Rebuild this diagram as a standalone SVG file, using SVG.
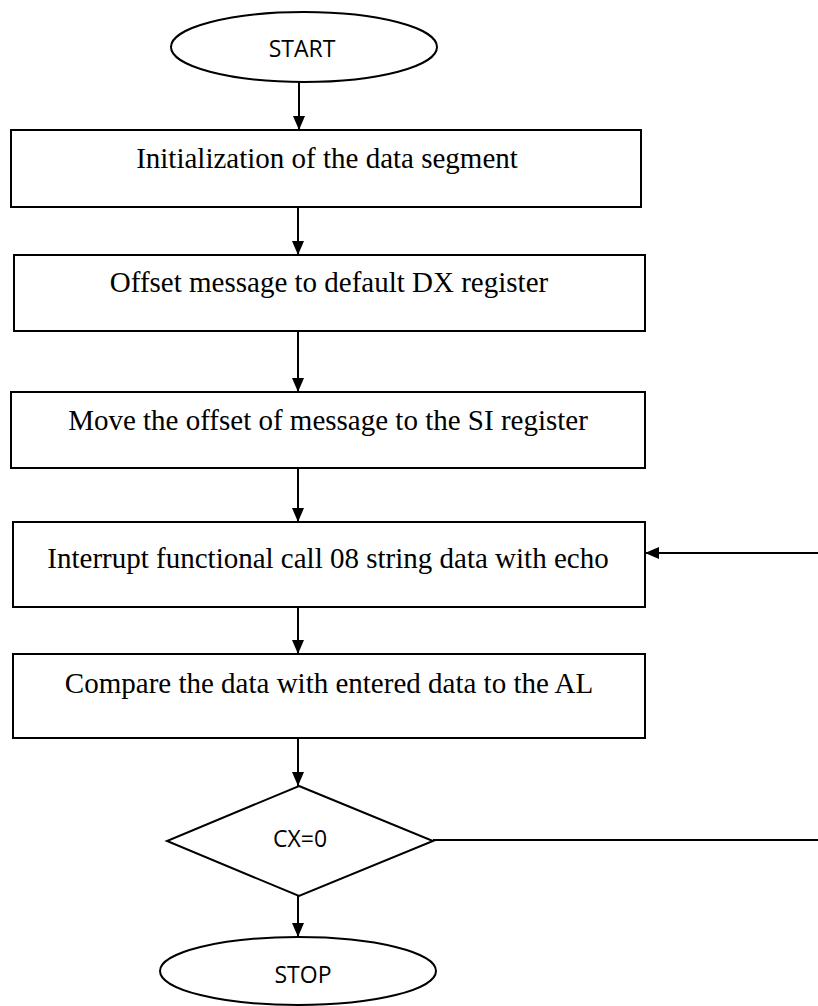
<svg xmlns="http://www.w3.org/2000/svg" width="818" height="1006" viewBox="0 0 818 1006">
  <style>
    .shape { fill: #ffffff; stroke: #000000; stroke-width: 2; }
    .line { fill: none; stroke: #000000; stroke-width: 2; }
    .proc { font-family: "Liberation Serif", "Times New Roman", serif; font-size: 29px; text-anchor: middle; fill: #000000; }
    .term { font-family: "Open Sans", "Noto Sans", sans-serif; font-size: 23px; text-anchor: middle; fill: #000000; }
  </style>
  <defs>
    <marker id="arrow" viewBox="0 0 14 12" refX="14" refY="6" markerWidth="14" markerHeight="12" markerUnits="userSpaceOnUse" orient="auto">
      <path d="M0,0 L14,6 L0,12 Z" fill="#000000"/>
    </marker>
  </defs>

  <!-- connectors -->
  <g id="connectors">
    <line class="line" x1="299" y1="82" x2="299" y2="130" marker-end="url(#arrow)"/>
    <line class="line" x1="298" y1="207" x2="298" y2="255" marker-end="url(#arrow)"/>
    <line class="line" x1="298" y1="331" x2="298" y2="392" marker-end="url(#arrow)"/>
    <line class="line" x1="298" y1="468" x2="298" y2="522" marker-end="url(#arrow)"/>
    <line class="line" x1="298" y1="607" x2="298" y2="654" marker-end="url(#arrow)"/>
    <line class="line" x1="298" y1="738" x2="298" y2="786" marker-end="url(#arrow)"/>
    <line class="line" x1="298" y1="896" x2="298" y2="937" marker-end="url(#arrow)"/>
    <line class="line" x1="818" y1="553" x2="645" y2="553" marker-end="url(#arrow)"/>
    <line class="line" x1="433" y1="840" x2="818" y2="840"/>
  </g>

  <g id="start">
    <ellipse class="shape" cx="304" cy="47" rx="133" ry="35"/>
    <text class="term" x="302" y="57">START</text>
  </g>

  <g id="init-data-segment">
    <rect class="shape" x="11" y="130" width="630" height="77"/>
    <text class="proc" x="327" y="168">Initialization of the data segment</text>
  </g>

  <g id="offset-to-dx">
    <rect class="shape" x="14" y="255" width="631" height="76"/>
    <text class="proc" x="329" y="292">Offset message to default DX register</text>
  </g>

  <g id="offset-to-si">
    <rect class="shape" x="11" y="392" width="634" height="76"/>
    <text class="proc" x="328" y="430">Move the offset of message to the SI register</text>
  </g>

  <g id="read-with-echo">
    <rect class="shape" x="13" y="522" width="632" height="85"/>
    <text class="proc" x="328" y="568">Interrupt functional call 08 string data with echo</text>
  </g>

  <g id="compare-al">
    <rect class="shape" x="13" y="654" width="632" height="84"/>
    <text class="proc" x="329" y="693">Compare the data with entered data to the AL</text>
  </g>

  <g id="cx-zero">
    <polygon class="shape" points="299,786 433,841 299,896 167,841"/>
    <text class="term" x="300" y="847">CX=0</text>
  </g>

  <g id="stop">
    <ellipse class="shape" cx="298" cy="971" rx="138" ry="34"/>
    <text class="term" x="303" y="983">STOP</text>
  </g>
</svg>
